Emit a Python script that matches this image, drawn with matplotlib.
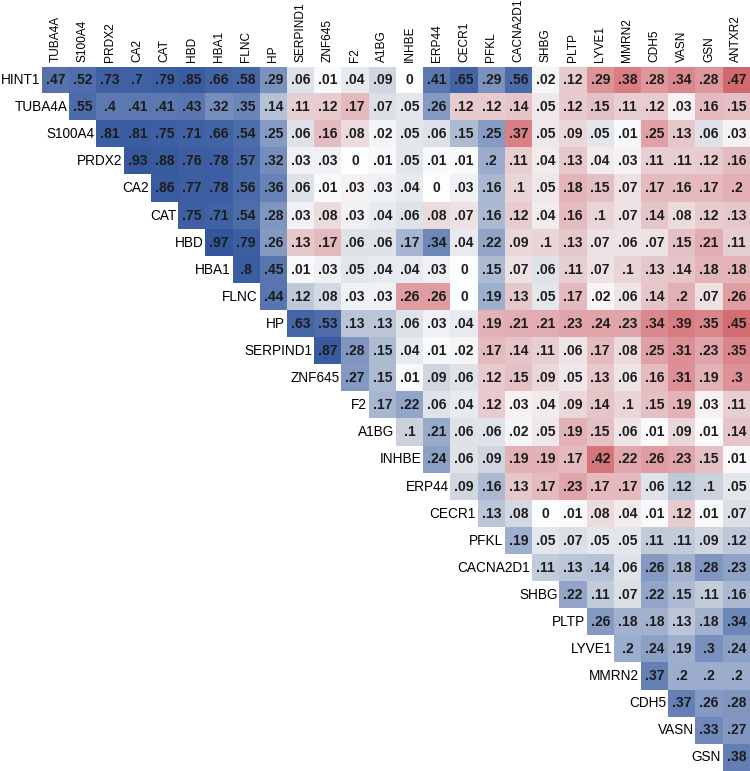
import numpy as np
import matplotlib
matplotlib.use('Agg')
import matplotlib.pyplot as plt
from matplotlib.colors import LinearSegmentedColormap

plt.rcParams['font.family'] = ['Liberation Sans', 'DejaVu Sans']

genes = ['HINT1', 'TUBA4A', 'S100A4', 'PRDX2', 'CA2', 'CAT', 'HBD', 'HBA1', 'FLNC',
         'HP', 'SERPIND1', 'ZNF645', 'F2', 'A1BG', 'INHBE', 'ERP44', 'CECR1', 'PFKL',
         'CACNA2D1', 'SHBG', 'PLTP', 'LYVE1', 'MMRN2', 'CDH5', 'VASN', 'GSN', 'ANTXR2']

# upper triangle, row i holds correlations with genes[i+1:]
hint1 = [.47, .52, .73, .70, .79, .85, .66, .58, .29, .06, .01, .04, .09, 0, .41, .65, .29, .56,
         .02, -.12, -.29, -.38, -.28, -.34, -.28, -.47]
tuba4a = [.55, .40, .41, .41, .43, .32, .35, .14, -.11, -.12, -.17, .07, .05, .26, -.12, -.12, -.14,
          -.05, -.12, -.15, -.11, -.12, -.03, -.16, -.15]
s100a4 = [.81, .81, .75, .71, .66, .54, .25, .06, -.16, -.08, .02, .05, .06, .15, .25, -.37, -.05,
          -.09, .05, .01, -.25, -.13, .06, -.03]
prdx2 = [.93, .88, .76, .78, .57, .32, .03, .03, 0, .01, .05, .01, .01, .20, -.11, -.04, -.13,
         -.04, -.03, -.11, -.11, -.12, -.16]
ca2 = [.86, .77, .78, .56, .36, .06, .01, -.03, .03, .04, 0, .03, .16, -.10, -.05, -.18, -.15,
       -.07, -.17, -.16, -.17, -.20]
cat = [.75, .71, .54, .28, .03, -.08, .03, .04, .06, -.08, -.07, .16, -.12, -.04, -.16, -.10,
       -.07, -.14, -.08, -.12, -.13]
hbd = [.97, .79, .26, -.13, -.17, .06, .06, .17, .34, .04, .22, -.09, -.10, -.13, -.07, -.06,
       -.07, -.15, -.21, -.11]
hba1 = [.80, .45, .01, .03, .05, .04, .04, .03, 0, .15, -.07, .06, -.11, -.07, -.10, -.13, -.14,
        -.18, -.18]
flnc = [.44, .12, .08, .03, .03, -.26, -.26, 0, .19, -.13, .05, -.17, -.02, -.06, -.14, -.20,
        -.07, -.26]
hp = [.63, .53, .13, .13, .06, .03, .04, -.19, -.21, -.21, -.23, -.24, -.23, -.34, -.39, -.35, -.45]
serpind1 = [.87, .28, .15, .04, .01, .02, -.17, -.14, -.11, -.06, -.17, -.08, -.25, -.31, -.23, -.35]
znf645 = [.27, .15, .01, .09, .06, -.12, -.15, -.09, -.05, -.13, -.06, -.16, -.31, -.19, -.30]
f2 = [.17, .22, .06, .04, -.12, -.03, -.04, -.09, -.14, -.10, -.15, -.19, -.03, -.11]
a1bg = [.10, .21, .06, .06, .02, -.05, -.19, -.15, -.06, -.01, -.09, -.01, -.14]
inhbe = [.24, .06, .09, -.19, -.19, -.17, -.42, -.22, -.26, -.23, -.15, -.01]
erp44 = [.09, .16, -.13, -.17, -.23, -.17, -.17, .06, .12, .10, .05]
cecr1 = [.13, .08, 0, .01, -.08, -.04, .01, -.12, .01, .07]
pfkl = [.19, .05, .07, .05, .05, .11, .11, .09, .12]
cacna2d1 = [.11, .13, .14, .06, .26, .18, .28, .23]
shbg = [.22, .11, .07, .22, .15, .11, .16]
pltp = [.26, .18, .18, .13, .18, .34]
lyve1 = [.20, .24, .19, .30, .24]
mmrn2 = [.37, .20, .20, .20]
cdh5 = [.37, .26, .28]
vasn = [.33, .27]
gsn = [.38]

rows = [hint1, tuba4a, s100a4, prdx2, ca2, cat, hbd, hba1, flnc, hp, serpind1, znf645, f2,
        a1bg, inhbe, erp44, cecr1, pfkl, cacna2d1, shbg, pltp, lyve1, mmrn2, cdh5, vasn, gsn]

row_names = genes[:-1]
col_names = genes[1:]
n = len(col_names)

M = np.full((n, n), np.nan)
for i, r in enumerate(rows):
    M[i, i:] = r

# blue for positive, red for negative, greyish near zero
nodes = [(-1.0, (190, 60, 65)), (-0.5, (208, 100, 105)), (-0.4, (215, 122, 127)),
         (-0.25, (224, 160, 165)), (-0.15, (229, 192, 196)), (-0.1, (233, 212, 215)),
         (-0.05, (240, 232, 234)), (0.0, (255, 255, 255)), (0.05, (228, 231, 236)),
         (0.1, (202, 210, 222)), (0.15, (175, 188, 211)), (0.25, (136, 157, 197)),
         (0.4, (94, 122, 178)), (0.6, (70, 103, 167)), (0.8, (60, 94, 162)), (1.0, (52, 86, 156))]
cmap = LinearSegmentedColormap.from_list(
    'corr', [((v + 1) / 2, tuple(c / 255 for c in rgb)) for v, rgb in nodes])


def fmt(v):
    s = f"{abs(v):.2f}".rstrip('0').rstrip('.')
    if s.startswith('0.'):
        s = s[1:]
    return s


fig = plt.figure(figsize=(7.5, 7.71), dpi=100)
ax = fig.add_axes([0.056, 0.0, 0.944, 0.9137])
ax.imshow(np.ma.masked_invalid(M), cmap=cmap, vmin=-1, vmax=1, aspect='auto',
          interpolation='nearest')

for i in range(n):
    for j in range(i, n):
        ax.text(j, i, fmt(M[i, j]), ha='center', va='center', fontsize=10,
                fontweight='bold', color='#1c1c1c')
    ax.text(i - 0.57, i, row_names[i], ha='right', va='center', fontsize=9.8, color='black')

ax.set_xlim(-0.5, n - 0.5)
ax.set_ylim(n - 0.5, -0.5)
ax.xaxis.tick_top()
ax.set_xticks(range(n))
ax.set_xticklabels(col_names, rotation=90, fontsize=8.6)
ax.set_yticks([])
ax.tick_params(length=0, pad=3)
for s in ax.spines.values():
    s.set_visible(False)

fig.savefig('out.png', dpi=100)
